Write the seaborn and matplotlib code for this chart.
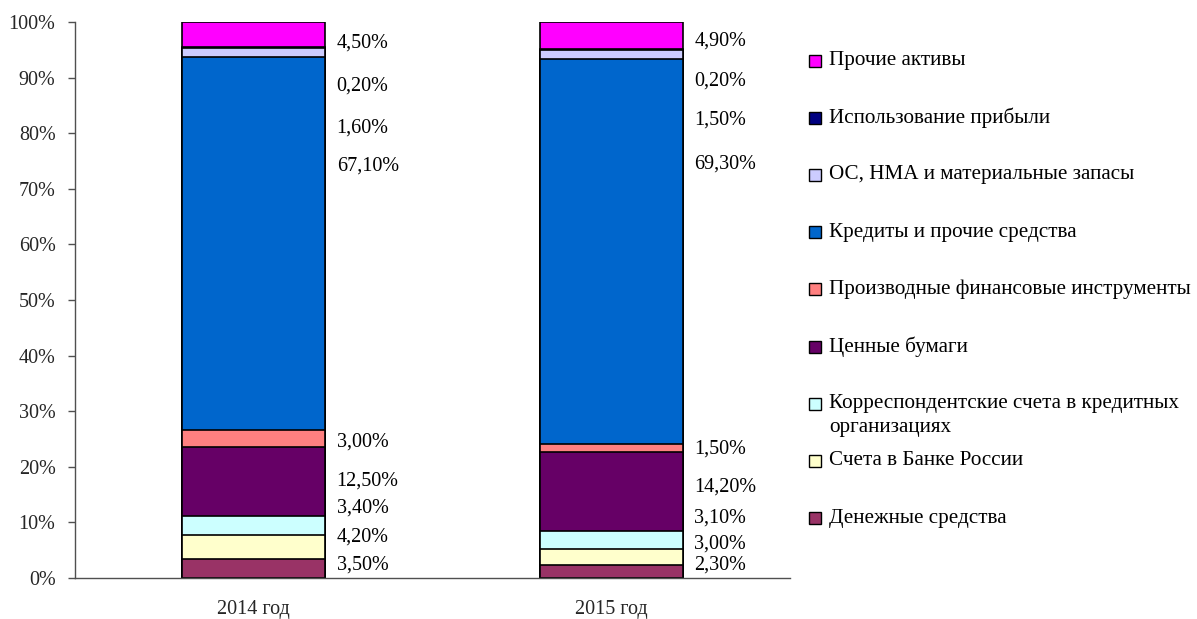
import numpy as np
import pandas as pd
import matplotlib
matplotlib.use("Agg")
import matplotlib.pyplot as plt
import seaborn as sns
from matplotlib.patches import Rectangle
from matplotlib.ticker import FixedLocator, FuncFormatter

years = ["2014 год", "2015 год"]
categories = [
    "Денежные средства",
    "Счета в Банке России",
    "Корреспондентские счета в кредитных\nорганизациях",
    "Ценные бумаги",
    "Производные финансовые инструменты",
    "Кредиты и прочие средства",
    "ОС, НМА и материальные запасы",
    "Использование прибыли",
    "Прочие активы",
]
values_2014 = [3.5, 4.2, 3.4, 12.5, 3.0, 67.1, 1.6, 0.2, 4.5]
values_2015 = [2.3, 3.0, 3.1, 14.2, 1.5, 69.3, 1.5, 0.2, 4.9]
# vertical positions of the value labels (in % units), as placed in the original
label_y_2014 = [2.3, 7.4, 12.6, 17.4, 24.5, 74.1, 80.9, 88.5, 96.2]
label_y_2015 = [2.3, 6.1, 10.8, 16.4, 23.2, 74.5, 82.4, 89.4, 96.6]
colors = ["#993366", "#FFFFCC", "#CCFFFF", "#660066", "#FF8080",
          "#0066CC", "#CCCCFF", "#000080", "#FF00FF"]

sns.set_style("white")
plt.rcParams["font.family"] = ["Liberation Serif", "DejaVu Serif"]
FS = 14.5
FS_LEG = 15.2

W, H = 1197, 619
fig = plt.figure(figsize=(W / 100, H / 100), dpi=100)
ax = fig.add_axes([75 / W, 1 - 578 / H, (790 - 75) / W, (578 - 22) / H])

cum_2014 = np.cumsum(values_2014)
cum_2015 = np.cumsum(values_2015)
for i in reversed(range(len(categories))):
    df = pd.DataFrame({"year": years, "cum": [cum_2014[i], cum_2015[i]]})
    sns.barplot(data=df, x="year", y="cum", order=years, color=colors[i],
                saturation=1, width=0.4, edgecolor="black", linewidth=1.2,
                errorbar=None, ax=ax)

def fmt(v):
    return f"{v:.2f}".replace(".", ",") + "%"

for xi, (vals, ly) in enumerate([(values_2014, label_y_2014), (values_2015, label_y_2015)]):
    for v, y in zip(vals, ly):
        ax.text(xi + 0.232, y, fmt(v), ha="left", va="center", fontsize=FS, color="black")

ax.set_xlim(-0.5, 1.5)
ax.set_ylim(0, 100)
ax.set_yticks(np.arange(0, 101, 10))
ax.yaxis.set_major_formatter(FuncFormatter(lambda v, p: f"{int(v)}%"))
ax.set_xlabel("")
ax.set_ylabel("")
ax.xaxis.set_minor_locator(FixedLocator([0.5, 1.5]))
ax.tick_params(axis="x", which="major", length=0, pad=16, labelsize=FS)
ax.tick_params(axis="x", which="minor", length=5, width=1, color="#505050", direction="out")
ax.tick_params(axis="y", which="major", length=5, width=1, color="#505050",
               direction="out", left=True, labelsize=FS, pad=9)
for s in ["top", "right"]:
    ax.spines[s].set_visible(False)
for s in ["left", "bottom"]:
    ax.spines[s].set_color("#505050")
    ax.spines[s].set_linewidth(1)

# legend (top to bottom: reversed stacking order)
y0, step = 60.5, 57.2
for k, i in enumerate(reversed(range(len(categories)))):
    yc = y0 + k * step
    fig.patches.append(Rectangle((809 / W, 1 - (yc + 6) / H), 12 / W, 12 / H,
                                 transform=fig.transFigure, facecolor=colors[i],
                                 edgecolor="black", linewidth=1))
    for j, line in enumerate(categories[i].split("\n")):
        fig.text(829 / W, 1 - (yc + j * 24) / H, line, ha="left", va="center",
                 fontsize=FS_LEG, color="black")

fig.savefig("out.png", dpi=100)
